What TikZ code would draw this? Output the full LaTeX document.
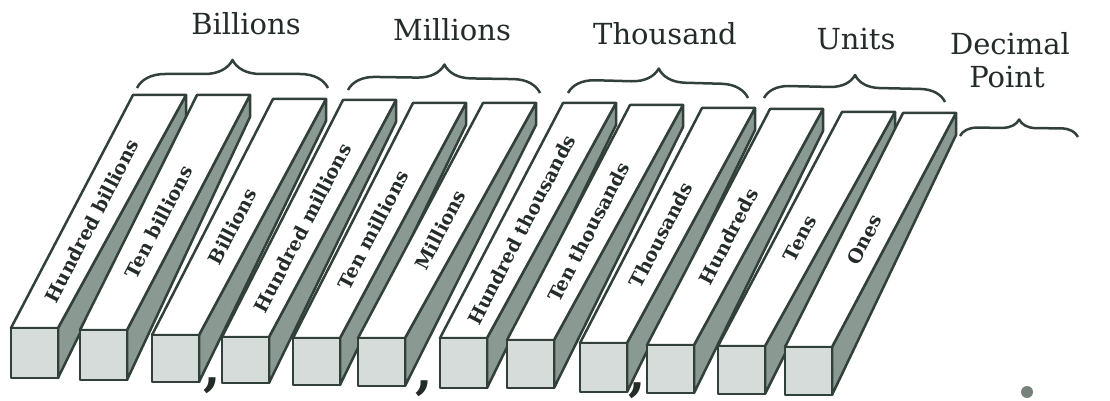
\documentclass[tikz,border=0pt]{standalone}
\usepackage{fontspec}
\setmainfont{DejaVu Serif}
\usetikzlibrary{decorations.pathreplacing,calc}
\definecolor{ink}{RGB}{50,64,58}
\definecolor{sidec}{RGB}{138,154,146}
\definecolor{frontc}{RGB}{214,220,217}
\definecolor{txtc}{RGB}{36,44,40}
\definecolor{dotc}{RGB}{120,130,125}
\begin{document}
\begin{tikzpicture}[x=1pt,y=-1pt, line join=round,
  barline/.style={draw=ink, line width=2.5pt},
  lbl/.style={font=\bfseries\fontsize{19}{19}\selectfont, text=txtc, rotate=62.5, inner sep=0pt},
  hdr/.style={font=\fontsize{29}{31}\selectfont, text=txtc, anchor=base, inner sep=0pt},
  grp/.style={draw=ink, line width=2.5pt, decorate, decoration={brace, amplitude=#1}},
  sep/.style={font=\bfseries\fontsize{50}{50}\selectfont, text=txtc, anchor=base, inner sep=0pt},
]
\useasboundingbox (0,0) rectangle (1110,401);
\foreach \i/\fx/\ft/\fb/\bx/\by/\txt in {
  1/11/328/378/133/95/Hundred billions,
  2/80/330/380/197/95/Ten billions,
  3/152/335/382/273/99/Billions,
  4/222/337/383/343/100/Hundred millions,
  5/293/338/385/413/103/Ten millions,
  6/358/338/386/483/103/Millions,
  7/440/338/388/563/103/Hundred thousands,
  8/507/340/388/630/105/Ten thousands,
  9/580/343/392/702/108/Thousands,
  10/647/345/393/770/109/Hundreds,
  11/718/346/394/842/112/Tens,
  12/785/347/395/903/113/Ones}{
  \filldraw[barline, fill=sidec] (\fx+47,\ft) -- (\fx+47,\fb) -- (\bx+53,\by+22) -- (\bx+53,\by) -- cycle;
  \filldraw[barline, fill=white] (\fx,\ft) -- (\bx,\by) -- (\bx+53,\by) -- (\fx+47,\ft) -- cycle;
  \filldraw[barline, fill=frontc] (\fx,\ft) rectangle (\fx+47,\fb);
  \node[lbl] (lab\i) at ($(\fx+23.5,\ft)!0.46!(\bx+26.5,\by)$) {\txt};
}
% headers
\node[hdr] (hB) at (246,35) {Billions};
\node[hdr] (hM) at (452,41) {Millions};
\node[hdr] (hT) at (665,45) {Thousand};
\node[hdr] (hU) at (856,50) {Units};
\node[hdr] (hD) at (1010,55) {Decimal};
\node[hdr] (hP) at (1007,88) {Point};
% braces
\coordinate (bB1) at (137,88);  \coordinate (bB2) at (328,88);
\coordinate (bM1) at (348,90);  \coordinate (bM2) at (540,93);
\coordinate (bT1) at (568,93);  \coordinate (bT2) at (748,98);
\coordinate (bU1) at (764,98);  \coordinate (bU2) at (945,102);
\coordinate (bD1) at (960,136); \coordinate (bD2) at (1078,137);
\draw[grp=28pt] (bB1) -- (bB2);
\draw[grp=27pt] (bM1) -- (bM2);
\draw[grp=27pt] (bT1) -- (bT2);
\draw[grp=25pt] (bU1) -- (bU2);
\draw[grp=17pt] (bD1) -- (bD2);
% separators
\node[sep] (c1) at (212,385) {,};
\node[sep] (c2) at (424,388) {,};
\node[sep] (c3) at (637,390) {,};
\fill[dotc] (1027,392) circle (6pt);
\end{tikzpicture}
\end{document}
